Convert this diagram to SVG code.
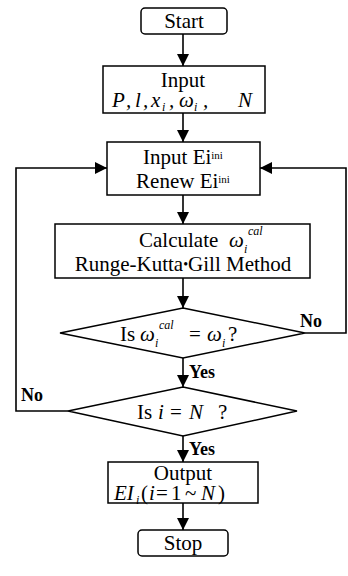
<svg xmlns="http://www.w3.org/2000/svg" width="348" height="576" viewBox="0 0 348 576">
<style>
.box{fill:#fff;stroke:#000;stroke-width:1.5}
.ln{fill:none;stroke:#000;stroke-width:1.6}
.t{font-family:"Liberation Serif","Times New Roman",serif;font-size:21px;fill:#000}
.c{text-anchor:middle}
.m{font-family:"Liberation Serif","Times New Roman",serif;font-style:italic;font-size:21px;fill:#000}
.sm{font-family:"Liberation Serif","Times New Roman",serif;font-style:italic;font-size:12px;fill:#000}
.b{font-family:"Liberation Serif","Times New Roman",serif;font-weight:bold;font-size:18px;fill:#000}
</style>
<defs>
<marker id="ah" markerWidth="12" markerHeight="12" refX="12" refY="6" orient="auto" markerUnits="userSpaceOnUse"><path d="M0,0 L12,6 L0,12 Z" fill="#000"/></marker>
</defs>
<g id="connectors">
<line class="ln" x1="183" y1="34" x2="183" y2="66" marker-end="url(#ah)"/>
<line class="ln" x1="183" y1="113" x2="183" y2="142" marker-end="url(#ah)"/>
<line class="ln" x1="183" y1="195" x2="183" y2="224" marker-end="url(#ah)"/>
<line class="ln" x1="183" y1="278" x2="183" y2="308" marker-end="url(#ah)"/>
<line class="ln" x1="183" y1="358" x2="183" y2="387" marker-end="url(#ah)"/>
<line class="ln" x1="183" y1="436" x2="183" y2="462" marker-end="url(#ah)"/>
<line class="ln" x1="183" y1="503" x2="183" y2="530" marker-end="url(#ah)"/>
<polyline class="ln" points="305,333 346,333 346,168 260,168" marker-end="url(#ah)"/>
<polyline class="ln" points="68,411 16,411 16,168 107,168" marker-end="url(#ah)"/>
<text class="b" x="300" y="327">No</text>
<text class="b" x="21" y="401">No</text>
<text class="b" x="189" y="378">Yes</text>
<text class="b" x="189" y="455">Yes</text>
</g>
<g id="start">
<rect class="box" x="141" y="8" width="86" height="26" rx="4"/>
<text class="t c" x="184" y="28">Start</text>
</g>
<g id="input">
<rect class="box" x="103" y="66" width="162" height="47"/>
<text class="t c" x="183" y="87">Input</text>
<text class="m" x="112" y="107">P</text>
<text class="m" x="126" y="107">,</text>
<text class="m" x="135" y="107">l</text>
<text class="m" x="143" y="107">,</text>
<text class="m" x="151" y="107">x</text>
<text class="sm" x="162" y="111">i</text>
<text class="m" x="169" y="107">,</text>
<text class="m" x="179" y="107">ω</text>
<text class="sm" x="194" y="111">i</text>
<text class="m" x="203" y="107">,</text>
<text class="m" x="238" y="107">N</text>
</g>
<g id="input-ei">
<rect class="box" x="107" y="142" width="153" height="53"/>
<text class="t c" x="183" y="164">Input Ei<tspan font-size="11" dy="-5">ini</tspan></text>
<text class="t c" x="183" y="188">Renew Ei<tspan font-size="11" dy="-5">ini</tspan></text>
</g>
<g id="calculate">
<rect class="box" x="55" y="224" width="255" height="54"/>
<text class="t" x="139" y="247">Calculate</text>
<text class="m" x="229" y="247" font-size="22">ω</text>
<text class="sm" x="244" y="253">i</text>
<text class="sm" x="248" y="235" font-size="13">cal</text>
<text class="t c" x="183" y="271">Runge-Kutta<tspan font-size="14" dy="-2">•</tspan><tspan dy="2">Gill Method</tspan></text>
</g>
<g id="check-omega">
<polygon class="box" points="183,308 305,333 183,358 60,333"/>
<text class="t" x="120" y="341">Is</text>
<text class="m" x="140" y="341">ω</text>
<text class="sm" x="155" y="347">i</text>
<text class="sm" x="159" y="329" font-size="13">cal</text>
<text class="t" x="189" y="341">=</text>
<text class="m" x="207" y="341">ω</text>
<text class="sm" x="222" y="347">i</text>
<text class="t" x="228" y="341">?</text>
</g>
<g id="check-n">
<polygon class="box" points="183,387 297,411 183,436 68,411"/>
<text class="t" x="137" y="419">Is</text>
<text class="m" x="158" y="419">i</text>
<text class="t" x="170" y="419">=</text>
<text class="m" x="189" y="419">N</text>
<text class="t" x="218" y="419">?</text>
</g>
<g id="output">
<rect class="box" x="108" y="462" width="150" height="41"/>
<text class="t c" x="183" y="480">Output</text>
<text class="m" x="114" y="500">EI</text>
<text class="sm" x="136" y="504">i</text>
<text class="t" x="141" y="500">(</text>
<text class="m" x="149" y="500">i</text>
<text class="t" x="156" y="500">=</text>
<text class="t" x="171" y="500">1</text>
<text class="t" x="185" y="500">~</text>
<text class="m" x="201" y="500">N</text>
<text class="t" x="218" y="500">)</text>
</g>
<g id="stop">
<rect class="box" x="138" y="530" width="90" height="26" rx="4"/>
<text class="t c" x="183" y="550">Stop</text>
</g>
</svg>
